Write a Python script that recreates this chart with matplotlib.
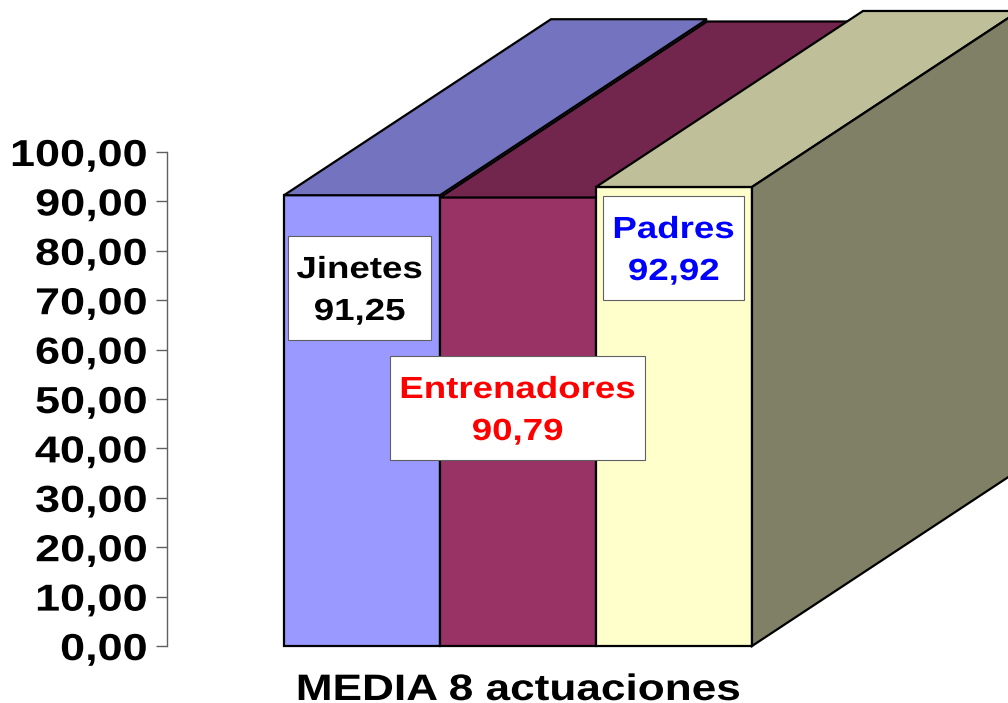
import matplotlib
matplotlib.use("Agg")
import matplotlib.pyplot as plt
import matplotlib.patheffects as pe
from matplotlib.patches import Polygon, Rectangle
from matplotlib.transforms import Affine2D

series = ["Jinetes", "Entrenadores", "Padres"]
values = [91.25, 90.79, 92.92]
value_labels = ["91,25", "90,79", "92,92"]
front_colors = ["#9999FF", "#993366", "#FFFFCC"]
top_colors = ["#7373BF", "#73264D", "#BFBF99"]
side_color = "#808066"
text_colors = ["black", "#FF0000", "#0000FF"]
yticks = [0, 10, 20, 30, 40, 50, 60, 70, 80, 90, 100]
xlabel = "MEDIA 8 actuaciones"

W, H = 1008, 703
bar_w = 156
bar_left = 284
depth_x = 267
depth_y = 176 / 4.94
stretch = 1.2

# label boxes, pixel x0, x1 and top/bottom
boxes = [(288, 431, 236, 340), (390, 645, 356, 460), (603, 744, 196, 300)]

plt.rcParams['font.family'] = ['Liberation Sans', 'DejaVu Sans']
plt.rcParams['font.weight'] = 'bold'


# the original text is wider than the font, so widen glyphs around one x position
class Stretch(pe.AbstractPathEffect):
    def __init__(self, anchor, sx=stretch):
        super().__init__()
        self.anchor = anchor
        self.sx = sx

    def draw_path(self, renderer, gc, tpath, affine, rgbFace=None):
        t = affine + Affine2D().translate(-self.anchor, 0).scale(self.sx, 1).translate(self.anchor, 0)
        renderer.draw_path(gc, tpath, t, rgbFace)


fig = plt.figure(figsize=(W / 100, H / 100), dpi=100)
ax = fig.add_axes([167 / W, (H - 646) / H, (W - 167) / W, 494 / H])
ax.set_xlim(167, W)
ax.set_ylim(0, 100)
ax.patch.set_visible(False)


def py(p):
    return (646 - p) / 4.94


for i, v in enumerate(values):
    x0 = bar_left + i * bar_w
    x1 = x0 + bar_w
    ax.bar(x0, v, width=bar_w, align="edge", color=front_colors[i], edgecolor="black",
           linewidth=1.6, clip_on=False, zorder=2 + i)
    top = [(x0, v), (x1, v), (x1 + depth_x, v + depth_y), (x0 + depth_x, v + depth_y)]
    ax.add_patch(Polygon(top, closed=True, facecolor=top_colors[i], edgecolor="black",
                         linewidth=1.6, clip_on=False, zorder=2 + i))
    if i == len(values) - 1:
        side = [(x1, 0), (x1 + depth_x, depth_y), (x1 + depth_x, v + depth_y), (x1, v)]
        ax.add_patch(Polygon(side, closed=True, facecolor=side_color, edgecolor="black",
                             linewidth=1.6, clip_on=False, zorder=2 + i))

for i, name in enumerate(series):
    x0, x1, p0, p1 = boxes[i]
    ax.add_patch(Rectangle((x0, py(p1)), x1 - x0, py(p0) - py(p1), facecolor="white",
                           edgecolor="#606060", linewidth=0.8, clip_on=False, zorder=10))
    xc = (x0 + x1) / 2
    for label, off in [(name, 42), (value_labels[i], 84)]:
        t = ax.text(xc, py(p0 + off), label, ha="center", va="baseline", color=text_colors[i],
                    fontsize=22, zorder=11)
        t.set_path_effects([Stretch(xc)])

for s in ["top", "right", "bottom"]:
    ax.spines[s].set_visible(False)
ax.spines["left"].set_color("#606060")
ax.spines["left"].set_linewidth(1.0)
ax.set_xticks([])
ax.set_yticks(yticks)
ax.set_yticklabels(["%d,00" % t for t in yticks], fontsize=27)
ax.tick_params(axis="y", length=8, width=1.0, color="#606060", pad=6)
for lab in ax.get_yticklabels():
    lab.set_path_effects([Stretch(147)])

t = fig.text(518 / W, 1 - 700 / H, xlabel, ha="center", va="baseline", fontsize=26.5)
t.set_path_effects([Stretch(518)])

fig.savefig("out.png", dpi=100)
